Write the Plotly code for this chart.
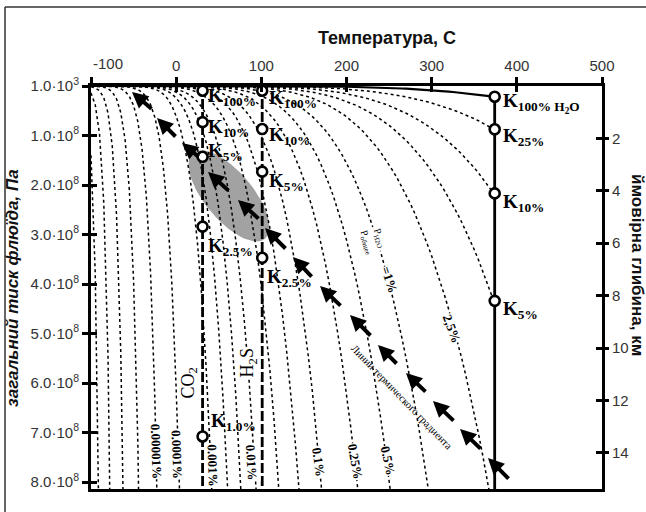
import numpy as np
import plotly.graph_objects as go

# ---------------- data ----------------
# water vapour pressure (ice below 0 C, liquid above), Pa, read along the 100% curve family
temp_c = [-100, -95, -90, -85, -80, -75, -70, -65, -60, -55, -50, -45, -40, -35, -30, -25, -20, -15, -10, -5, 0,
          5, 10, 15, 20, 25, 30, 35, 40, 45, 50, 55, 60, 65, 70, 75, 80, 85, 90, 95, 100,
          105, 110, 115, 120, 125, 130, 135, 140, 145, 150, 155, 160, 165, 170, 175, 180, 185, 190, 195, 200,
          205, 210, 215, 220, 225, 230, 235, 240, 245, 250, 255, 260, 265, 270, 275, 280, 285, 290, 295, 300,
          305, 310, 315, 320, 325, 330, 335, 340, 345, 350, 355, 360, 365, 370, 373.95]
p_h2o_pa = [0.0014, 0.0038, 0.0097, 0.0236, 0.0547, 0.122, 0.2615, 0.5406, 1.080, 2.093, 3.936, 7.202, 12.84,
            22.35, 38.01, 63.29, 103.3, 165.5, 259.9, 401.7, 611.2,
            872.6, 1228.1, 1705.6, 2339.3, 3169.9, 4247.0, 5629.0, 7384.9, 9595.0, 12352, 15762, 19946, 25042,
            31201, 38595, 47414, 57867, 70182, 84608, 101418,
            120900, 143380, 169180, 198670, 232230, 270280, 313230, 361540, 415680, 476160, 543490, 618230,
            700930, 792180, 892600, 1002800, 1123500, 1255200, 1398800, 1554900,
            1724300, 1907700, 2105900, 2319600, 2549700, 2797100, 3062500, 3346900, 3651200, 3976200, 4322900,
            4692300, 5085300, 5503000, 5946400, 6416600, 6914800, 7441800, 7999800, 8587900,
            9209400, 9865100, 10556000, 11284000, 12051000, 12858000, 13707000, 14601000, 15541000, 16529000,
            17570000, 18666000, 19822000, 21044000, 22064000]

# isolines P_H2O / P_total, %
iso_fraction_pct = [25, 10, 5, 2.5, 1, 0.5, 0.25, 0.1, 0.05, 0.025, 0.01, 0.005, 0.0025, 0.001,
                    1e-4, 1e-5, 1e-6, 1e-7, 1e-8, 1e-9]
sat_fraction_pct = 100

# critical temperatures (vertical lines), C
co2_t, h2s_t, h2o_t = 31, 101, 374

# points on the critical lines
co2_k_text = ["100%", "10%", "5%", "2.5%", "1.0%"]
co2_k_p = [0.095e8, 0.73e8, 1.43e8, 2.84e8, 7.08e8]
h2s_k_text = ["100%", "10%", "5%", "2.5%"]
h2s_k_p = [0.095e8, 0.87e8, 1.73e8, 3.47e8]
h2o_k_text = ["100% H<sub>2</sub>O", "25%", "10%", "5%"]
h2o_k_p = [0.216e8, 0.875e8, 2.17e8, 4.34e8]

# thermal gradient arrows (tail -> head)
arrow_tail_t = [392.0, 359.1, 327.4, 294.5, 260.5, 229.9, 194.7, 160.7, 130.1, 98.4, 63.2, 28.0, 1.0, -27.2]
arrow_tail_p = [7.96e8, 7.354e8, 6.788e8, 6.202e8, 5.636e8, 5.071e8, 4.465e8, 3.879e8, 3.313e8, 2.707e8,
                2.141e8, 1.455e8, 1.051e8, 0.485e8]
arrow_head_t = [366.1, 333.3, 301.5, 269.8, 237.0, 204.1, 168.9, 137.2, 104.3, 72.6, 37.4, 6.8, -22.5, -51.9]
arrow_head_p = [7.515e8, 6.929e8, 6.364e8, 5.798e8, 5.232e8, 4.626e8, 4.04e8, 3.455e8, 2.869e8, 2.303e8,
                1.737e8, 1.152e8, 0.646e8, 0.121e8]

# axes
x_ticks = [-100, 0, 100, 200, 300, 400, 500]
y_ticks = [1e3, 1e8, 2e8, 3e8, 4e8, 5e8, 6e8, 7e8, 8e8]
y_ticktext = ["1.0·10<sup>3</sup>"] + ["%d.0·10<sup>8</sup>" % i for i in range(1, 9)]
depth_ticks = [2, 4, 6, 8, 10, 12, 14]

# ---------------- layout constants ----------------
W, H = 646, 512
ML, MR, MT, MB = 91, 44, 86, 23
PW, PH = W - ML - MR, H - MT - MB
X_RANGE = [-100, 500]
Y_MAX = 8.141e8
DEPTH_MAX = 15.38
SX = PW / (X_RANGE[1] - X_RANGE[0])
SY = PH / Y_MAX

SERIF = "Liberation Serif"
SANS = "Liberation Sans"

fig = go.Figure()

# gray ellipse (region), parameters in pixels around a data centre
ell_tc, ell_pc, ell_a, ell_b, ell_ang = 62.0, 2.22e8, 56, 24, np.deg2rad(50)
tt = np.linspace(0, 2 * np.pi, 80)
dx = ell_a * np.cos(tt) * np.cos(ell_ang) - ell_b * np.sin(tt) * np.sin(ell_ang)
dy = ell_a * np.cos(tt) * np.sin(ell_ang) + ell_b * np.sin(tt) * np.cos(ell_ang)
fig.add_trace(go.Scatter(x=ell_tc + dx / SX, y=ell_pc + dy / SY, fill="toself", mode="lines",
                         line=dict(width=0), fillcolor="#a2a2a2", hoverinfo="skip", showlegend=False))

T = np.array(temp_c)
P = np.array(p_h2o_pa)
for f in iso_fraction_pct:
    ptot = P / (f / 100.0)
    idx = np.where(ptot > Y_MAX)[0]
    n = idx[0] + 1 if len(idx) else len(ptot)
    fig.add_trace(go.Scatter(x=T[:n], y=ptot[:n], mode="lines",
                             line=dict(color="black", width=1.5, dash="dot"),
                             hoverinfo="skip", showlegend=False))

fig.add_trace(go.Scatter(x=T, y=P / (sat_fraction_pct / 100.0), mode="lines",
                         line=dict(color="black", width=2.2), hoverinfo="skip", showlegend=False))

# critical lines
for t0, dash, ytop in [(co2_t, "10px,3px", 0), (h2s_t, "10px,3px", 0), (h2o_t, None, h2o_k_p[0])]:
    fig.add_trace(go.Scatter(x=[t0, t0], y=[ytop, Y_MAX], mode="lines",
                             line=dict(color="black", width=2.8, dash=dash),
                             hoverinfo="skip", showlegend=False))

# markers
for t0, plist in [(co2_t, co2_k_p), (h2s_t, h2s_k_p), (h2o_t, h2o_k_p)]:
    fig.add_trace(go.Scatter(x=[t0] * len(plist), y=plist, mode="markers",
                             marker=dict(symbol="circle", size=10, color="white",
                                         line=dict(color="black", width=2.6)),
                             hoverinfo="skip", showlegend=False))

# ghost traces for overlay axes (inner ticks)
for xa, ya in [("x2", "y"), ("x", "y2"), ("x", "y3"), ("x", "y4")]:
    fig.add_trace(go.Scatter(x=[X_RANGE[0]], y=[0], xaxis=xa, yaxis=ya, mode="markers",
                             marker=dict(opacity=0), hoverinfo="skip", showlegend=False))

ann = []
kfont = dict(family=SERIF, size=19, color="black")
def klabels(t0, texts, plist, offs):
    for txt, p, (xs, ys) in zip(texts, plist, offs):
        ann.append(dict(x=t0, y=p, xref="x", yref="y", text="<b>K<sub>%s</sub></b>" % txt, showarrow=False,
                        xanchor="left", yanchor="middle", xshift=xs, yshift=ys, font=kfont))

klabels(co2_t, co2_k_text, co2_k_p, [(3, -6), (3, -6), (3, 5), (3, -20), (6, 14)])
klabels(h2s_t, h2s_k_text, h2s_k_p, [(5, -8), (5, -7), (5, -10), (3, -20)])
klabels(h2o_t, h2o_k_text, h2o_k_p, [(6, -6), (6, -8), (6, -10), (6, -9)])

# isoline labels
lab_font = dict(family=SERIF, size=13, color="black")
iso_labels = [("0.00001%", -23.7, 7.39e8, 88), ("0.0001%", 0.6, 7.45e8, 88), ("0.001%", 43.2, 7.66e8, 88),
              ("0.01%", 88.7, 7.6e8, 86), ("0.1%", 166.9, 7.59e8, 82), ("0.25%", 210.0, 7.59e8, 80),
              ("0.5%", 249.0, 7.56e8, 78), ("2,5%", 323.9, 4.89e8, 70), ("=1%", 251.0, 3.92e8, 72)]
for txt, x, y, ang in iso_labels:
    ann.append(dict(x=x, y=y, text="<b>%s</b>" % txt, showarrow=False, textangle=ang, font=lab_font,
                    bgcolor="white", borderpad=0))
ann.append(dict(x=231, y=3.11e8, text="P<sub>H2O</sub><br>P<sub>общее</sub>", showarrow=False, textangle=72,
                font=dict(family=SERIF, size=10, color="black"), bgcolor="white", borderpad=0))
ann.append(dict(x=co2_t, y=6.0e8, text="CO<sub>2</sub>", showarrow=False, textangle=-90, xshift=-14,
                font=dict(family=SERIF, size=18, color="black"), bgcolor="white", borderpad=0))
ann.append(dict(x=h2s_t, y=5.6e8, text="H<sub>2</sub>S", showarrow=False, textangle=-90, xshift=-14,
                font=dict(family=SERIF, size=18, color="black"), bgcolor="white", borderpad=0))
ann.append(dict(x=272, y=6.18e8, text="Линии термического градиента", showarrow=False, textangle=46,
                xshift=-6, yshift=-6, font=dict(family=SERIF, size=10.5, color="black")))

# arrows
for tx, ty, hx, hy in zip(arrow_tail_t, arrow_tail_p, arrow_head_t, arrow_head_p):
    ann.append(dict(x=hx, y=hy, ax=tx, ay=ty, xref="x", yref="y", axref="x", ayref="y", text="",
                    showarrow=True, arrowhead=2, arrowsize=0.8, arrowwidth=4, arrowcolor="black", standoff=0))

# titles
ann.append(dict(x=(387 - ML) / PW, y=(H - MB - 38) / PH, xref="paper", yref="paper", text="<b>Температура, С</b>",
                xanchor="center", yanchor="middle",
                showarrow=False, font=dict(family=SANS, size=18, color="#111")))
ann.append(dict(x=(13 - ML) / PW, y=0.499, xref="paper", yref="paper", text="<b><i>загальний тиск флюїда, Па</i></b>",
                xanchor="center", yanchor="middle",
                showarrow=False, textangle=-90, font=dict(family=SANS, size=17, color="#111")))
ann.append(dict(x=(638 - ML) / PW, y=(H - MB - 265) / PH, xref="paper", yref="paper",
                text="<b>ймовірна глибина, км</b>", xanchor="center", yanchor="middle",
                showarrow=False, textangle=90, font=dict(family=SANS, size=17, color="#111")))
ann.append(dict(x=-100, y=1, xref="x", yref="paper", text="-100", showarrow=False, xanchor="left",
                yanchor="bottom", yshift=12, font=dict(family=SANS, size=15, color="#333")))

tickfont = dict(family=SANS, size=15, color="#333")
axis_common = dict(tickcolor="black", tickwidth=2.5, ticklen=6, showgrid=False, zeroline=False)
fig.update_layout(
    width=W, height=H, margin=dict(l=ML, r=MR, t=MT, b=MB),
    paper_bgcolor="white", plot_bgcolor="white", showlegend=False,
    xaxis=dict(range=X_RANGE, side="top", tickvals=x_ticks, ticktext=[""] + [str(v) for v in x_ticks[1:]],
               ticks="outside", tickfont=tickfont, showline=True, linewidth=3, linecolor="black", mirror=True,
               **axis_common),
    xaxis2=dict(range=X_RANGE, overlaying="x", side="top", anchor="y", tickvals=x_ticks, ticks="inside",
                showticklabels=False, showline=False, **axis_common),
    yaxis=dict(range=[Y_MAX, 0], tickvals=y_ticks, ticktext=y_ticktext, ticks="outside", tickfont=tickfont,
               showline=True, linewidth=3, linecolor="black", mirror=True, **axis_common),
    yaxis2=dict(range=[DEPTH_MAX, 0], overlaying="y", side="right", anchor="x", tickvals=depth_ticks,
                ticks="outside", tickfont=tickfont, showline=False, **axis_common),
    yaxis3=dict(range=[Y_MAX, 0], overlaying="y", side="left", anchor="x", tickvals=y_ticks, ticks="inside",
                showticklabels=False, showline=False, **axis_common),
    yaxis4=dict(range=[DEPTH_MAX, 0], overlaying="y", side="right", anchor="x", tickvals=depth_ticks,
                ticks="inside", showticklabels=False, showline=False, **axis_common),
    annotations=ann,
    shapes=[
        dict(type="line", xref="paper", yref="paper", x0=(5 - ML) / PW, x1=(W + 5 - ML) / PW,
             y0=(H - MB - 7) / PH, y1=(H - MB - 7) / PH, line=dict(color="#333", width=1.5)),
        dict(type="line", xref="paper", yref="paper", x0=(5 - ML) / PW, x1=(5 - ML) / PW,
             y0=(H - MB - 7) / PH, y1=(H - MB - H - 5) / PH, line=dict(color="#333", width=1.5)),
    ],
)
fig.write_html("out.html", config={"displayModeBar": False},
               post_script="document.body.style.margin='0';document.body.style.overflow='hidden';")
